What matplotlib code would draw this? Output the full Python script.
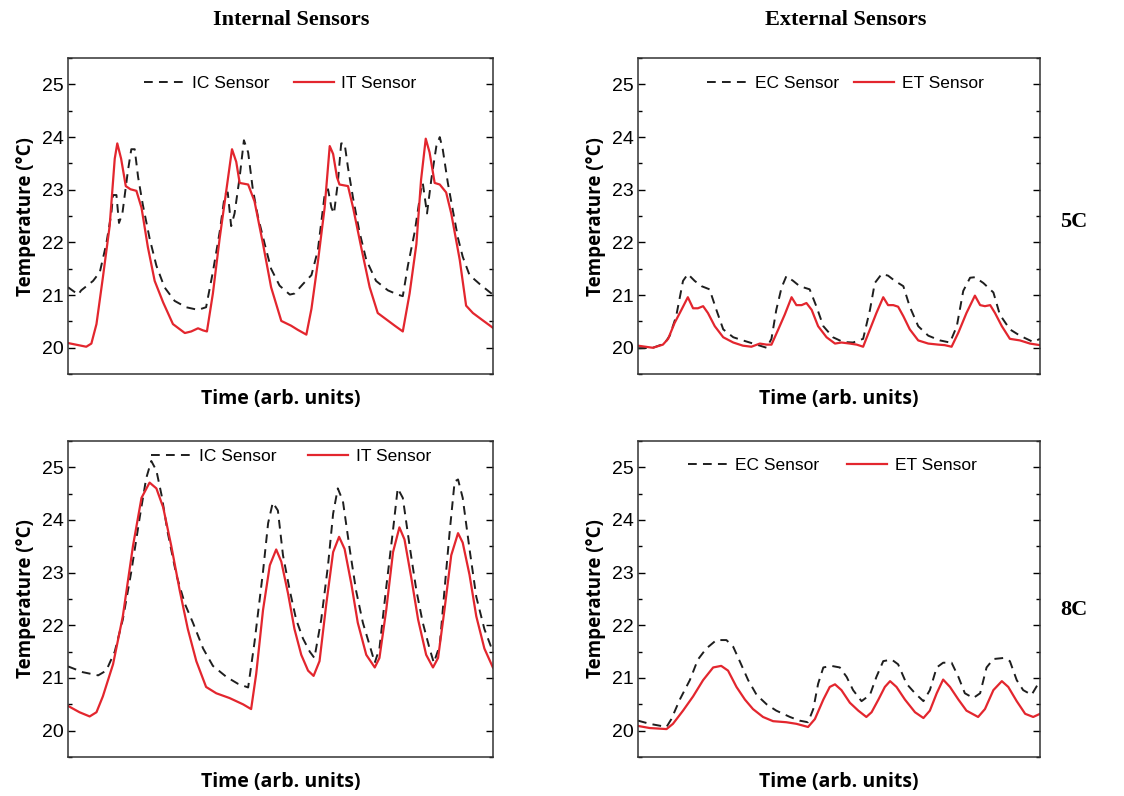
import matplotlib.pyplot as plt
import numpy as np

# temperature traces, time in arbitrary units (0-100 per run)
# --- 5C run, internal sensors ---
t_it_5 = [0, 4.3, 5.5, 6.7, 8.2, 9.8, 11.0, 11.6, 12.5, 13.6, 14.7, 16.1, 17.3, 18.8, 20.4, 22.4, 24.7,
          27.5, 29.0, 30.6, 31.8, 32.7, 34.1, 35.7, 37.3, 38.6, 39.6, 40.4, 42.4, 43.9, 45.9, 47.8, 50.2,
          52.5, 54.1, 56.1, 57.3, 58.8, 60.4, 61.6, 62.4, 63.3, 63.9, 65.9, 67.1, 69.0, 71.0, 72.9, 74.9,
          76.9, 78.8, 80.4, 82.0, 83.1, 84.2, 85.1, 86.3, 87.5, 89.0, 90.2, 92.2, 93.7, 95.3, 97.3, 100]
it_5 = [20.09, 20.02, 20.08, 20.45, 21.33, 22.31, 23.59, 23.88, 23.59, 23.07, 23.01, 22.98, 22.66, 21.91,
        21.27, 20.86, 20.45, 20.28, 20.31, 20.37, 20.33, 20.31, 21.03, 22.08, 23.01, 23.77, 23.53, 23.13,
        23.10, 22.78, 21.97, 21.15, 20.51, 20.42, 20.34, 20.25, 20.74, 21.62, 22.66, 23.83, 23.68, 23.24,
        23.10, 23.07, 22.66, 21.91, 21.15, 20.66, 20.54, 20.42, 20.31, 21.03, 21.97, 23.19, 23.97, 23.71,
        23.13, 23.10, 22.95, 22.55, 21.67, 20.80, 20.66, 20.54, 20.38]

t_ic_5 = [0, 2.4, 3.1, 5.9, 7.5, 9.0, 10.2, 10.6, 11.4, 12.0, 12.8, 14.1, 14.9, 15.7, 16.5, 17.6, 19.2,
          20.8, 22.7, 25.1, 27.8, 30.6, 32.5, 34.1, 35.7, 36.9, 37.6, 38.4, 39.2, 40.4, 41.4, 42.4, 43.5,
          44.7, 46.3, 47.8, 49.8, 52.2, 53.3, 55.3, 57.3, 58.8, 60.4, 61.2, 62.0, 62.6, 63.5, 64.3, 65.1,
          65.9, 67.1, 68.6, 70.2, 72.5, 75.3, 77.6, 78.8, 80.0, 81.6, 83.1, 83.5, 84.5, 85.5, 86.7, 87.5,
          88.2, 89.4, 90.6, 91.8, 92.9, 94.5, 96.9, 99.2, 100]
ic_5 = [21.15, 21.01, 21.09, 21.27, 21.44, 21.97, 22.55, 22.90, 22.90, 22.37, 22.55, 23.36, 23.77, 23.77,
        23.24, 22.72, 22.08, 21.56, 21.15, 20.89, 20.77, 20.72, 20.77, 21.44, 22.20, 22.90, 22.95, 22.31,
        22.55, 23.24, 23.94, 23.71, 23.01, 22.49, 21.97, 21.50, 21.18, 21.01, 21.03, 21.21, 21.38, 21.85,
        22.90, 23.01, 22.66, 22.55, 23.13, 23.88, 23.88, 23.42, 22.84, 22.20, 21.67, 21.27, 21.09, 21.01,
        20.98, 21.56, 22.20, 23.01, 23.13, 22.55, 23.19, 23.83, 24.00, 23.77, 23.13, 22.60, 22.08, 21.73,
        21.38, 21.21, 21.06, 21.01]

# --- 8C run, internal sensors ---
t_it_8 = [0, 2.7, 5.1, 6.7, 8.2, 10.6, 12.9, 15.3, 17.3, 19.2, 20.8, 22.4, 24.3, 26.3, 28.2, 30.2, 32.5,
          34.9, 38.0, 41.2, 43.1, 44.3, 45.9, 47.5, 49.0, 50.2, 51.8, 53.3, 54.9, 56.5, 57.8, 59.2, 60.8,
          62.4, 63.8, 65.1, 66.7, 68.2, 70.2, 72.2, 73.3, 74.9, 76.5, 78.0, 79.2, 80.8, 82.4, 84.3, 85.9,
          87.1, 88.6, 90.2, 91.8, 92.9, 94.5, 96.1, 98.0, 100]
it_8 = [20.47, 20.35, 20.27, 20.35, 20.65, 21.26, 22.17, 23.51, 24.42, 24.71, 24.60, 24.24, 23.51, 22.66,
        21.93, 21.32, 20.83, 20.71, 20.62, 20.50, 20.41, 21.08, 22.29, 23.14, 23.44, 23.21, 22.60, 21.93,
        21.44, 21.14, 21.04, 21.32, 22.41, 23.39, 23.68, 23.45, 22.78, 22.05, 21.44, 21.20, 21.38, 22.29,
        23.39, 23.86, 23.63, 22.90, 22.11, 21.44, 21.20, 21.38, 22.29, 23.33, 23.75, 23.57, 22.96, 22.17,
        21.56, 21.20]

t_ic_8 = [0, 3.5, 7.1, 9.0, 11.0, 12.9, 14.9, 16.9, 18.4, 19.6, 20.8, 22.0, 23.5, 25.5, 27.5, 29.4, 31.8,
          34.1, 37.3, 40.0, 42.4, 43.9, 45.9, 47.1, 48.2, 49.4, 50.6, 52.2, 53.7, 55.3, 56.9, 58.0, 59.6,
          61.2, 62.4, 63.5, 64.7, 66.3, 67.8, 69.4, 71.0, 72.2, 73.3, 74.9, 76.5, 77.6, 78.8, 80.4, 82.0,
          83.5, 85.1, 86.1, 87.5, 88.6, 89.8, 91.0, 91.8, 92.9, 94.5, 96.1, 98.0, 100]
ic_8 = [21.22, 21.11, 21.05, 21.14, 21.50, 22.11, 23.02, 24.06, 24.79, 25.12, 24.94, 24.48, 23.75, 22.96,
        22.41, 22.05, 21.56, 21.23, 21.02, 20.89, 20.82, 21.68, 23.02, 23.94, 24.33, 24.18, 23.33, 22.66,
        22.11, 21.75, 21.50, 21.38, 22.11, 23.14, 24.12, 24.60, 24.36, 23.45, 22.66, 22.05, 21.62, 21.29,
        21.56, 22.72, 23.81, 24.60, 24.42, 23.51, 22.66, 22.05, 21.56, 21.29, 21.62, 22.66, 23.75, 24.73,
        24.77, 24.42, 23.45, 22.54, 21.93, 21.50]

# --- 5C run, external sensors ---
t_et_5 = [0, 3.7, 6.2, 7.5, 9.1, 10.8, 12.4, 13.7, 14.9, 16.2, 17.4, 19.1, 21.2, 23.7, 26.1, 28.2, 30.3,
          32.0, 33.2, 34.9, 36.5, 38.2, 39.4, 40.7, 41.9, 43.2, 44.8, 46.9, 49.0, 50.6, 52.7, 54.4, 56.0,
          57.7, 59.3, 61.0, 62.2, 63.5, 64.7, 66.0, 67.6, 69.7, 72.2, 74.7, 76.3, 78.0, 79.7, 81.7, 83.8,
          85.1, 86.3, 87.6, 88.8, 90.5, 92.5, 95.0, 97.5, 100]
et_5 = [20.04, 20.00, 20.06, 20.17, 20.47, 20.72, 20.96, 20.75, 20.75, 20.79, 20.66, 20.41, 20.20, 20.10,
        20.04, 20.02, 20.08, 20.06, 20.06, 20.35, 20.63, 20.96, 20.81, 20.81, 20.85, 20.72, 20.41, 20.20,
        20.08, 20.10, 20.08, 20.06, 20.02, 20.35, 20.66, 20.96, 20.81, 20.81, 20.78, 20.60, 20.35, 20.14,
        20.08, 20.06, 20.05, 20.02, 20.29, 20.66, 20.99, 20.81, 20.79, 20.81, 20.66, 20.41, 20.17, 20.14,
        20.08, 20.05]

t_ec_5 = [0, 3.7, 6.6, 7.9, 9.5, 11.2, 12.4, 14.1, 15.8, 17.8, 19.5, 21.2, 23.7, 26.1, 29.5, 32.0, 33.2,
          34.4, 35.7, 36.9, 38.6, 40.2, 42.7, 44.4, 46.1, 48.5, 51.0, 53.5, 56.0, 57.7, 58.9, 60.6, 62.2,
          63.9, 66.0, 67.6, 69.7, 72.2, 75.1, 77.6, 79.3, 80.9, 82.6, 83.8, 85.9, 88.4, 90.0, 92.5, 95.0,
          98.3, 100]
ec_5 = [19.99, 20.00, 20.08, 20.23, 20.60, 21.27, 21.40, 21.27, 21.17, 21.11, 20.72, 20.35, 20.20, 20.14,
        20.06, 20.00, 20.17, 20.72, 21.14, 21.36, 21.27, 21.17, 21.11, 20.78, 20.41, 20.20, 20.11, 20.10,
        20.17, 20.72, 21.23, 21.40, 21.37, 21.27, 21.17, 20.78, 20.41, 20.23, 20.14, 20.10, 20.41, 21.08,
        21.33, 21.34, 21.23, 21.05, 20.63, 20.35, 20.23, 20.11, 20.17]

# --- 8C run, external sensors ---
t_et_8 = [0, 2.9, 7.1, 8.7, 11.2, 13.7, 16.2, 18.7, 20.7, 22.4, 24.5, 26.6, 28.6, 31.1, 33.6, 36.9, 39.4,
          42.3, 44.0, 46.1, 47.7, 49.0, 50.6, 52.7, 54.8, 56.8, 58.1, 59.8, 61.4, 62.7, 64.3, 66.4, 68.9,
          71.0, 72.6, 74.3, 75.9, 77.6, 79.7, 81.7, 84.6, 86.3, 88.4, 90.5, 92.1, 94.2, 96.3, 98.3, 100]
et_8 = [20.09, 20.05, 20.03, 20.13, 20.38, 20.65, 20.96, 21.20, 21.23, 21.14, 20.83, 20.59, 20.41, 20.26,
        20.18, 20.16, 20.13, 20.07, 20.22, 20.59, 20.83, 20.88, 20.77, 20.53, 20.38, 20.26, 20.35, 20.59,
        20.83, 20.94, 20.83, 20.59, 20.35, 20.24, 20.38, 20.71, 20.97, 20.83, 20.59, 20.38, 20.26, 20.41,
        20.77, 20.94, 20.83, 20.56, 20.32, 20.26, 20.32]

t_ec_8 = [0, 2.9, 7.1, 8.3, 10.4, 12.9, 14.9, 17.0, 19.5, 22.0, 23.7, 25.3, 27.4, 29.5, 32.0, 34.4, 37.8,
          40.2, 42.3, 43.6, 44.8, 46.1, 48.1, 50.2, 51.9, 53.5, 55.6, 57.7, 59.3, 61.0, 63.1, 64.7, 66.8,
          68.9, 71.0, 72.6, 74.3, 75.9, 78.0, 79.7, 81.3, 83.4, 85.1, 86.7, 88.4, 90.9, 92.5, 94.2, 95.8,
          97.9, 100]
ec_8 = [20.19, 20.13, 20.07, 20.22, 20.59, 20.96, 21.35, 21.56, 21.72, 21.72, 21.59, 21.32, 20.96, 20.68,
        20.50, 20.38, 20.26, 20.19, 20.16, 20.41, 20.89, 21.20, 21.23, 21.20, 21.02, 20.77, 20.56, 20.68,
        21.02, 21.32, 21.35, 21.26, 20.89, 20.71, 20.56, 20.77, 21.20, 21.29, 21.29, 21.02, 20.71, 20.62,
        20.71, 21.20, 21.36, 21.38, 21.32, 20.96, 20.77, 20.68, 20.95]

RED = '#e3262e'
DASH = '#1e1e1e'
TICK_FONT = 'Liberation Sans'
LABEL_FONT = 'Open Sans'

fig = plt.figure(figsize=(11.24, 7.96), dpi=100)

# [left, bottom, width, height] for each panel
ax_tl = fig.add_axes([0.0605, 0.530, 0.378, 0.397])
ax_tr = fig.add_axes([0.5676, 0.530, 0.3577, 0.397])
ax_bl = fig.add_axes([0.0605, 0.049, 0.378, 0.397])
ax_br = fig.add_axes([0.5676, 0.049, 0.3577, 0.397])

panels = [
    (ax_tl, t_ic_5, ic_5, t_it_5, it_5, 'IC Sensor', 'IT Sensor', (19.74, 25.26), (0.50, 0.92), 1.4),
    (ax_bl, t_ic_8, ic_8, t_it_8, it_8, 'IC Sensor', 'IT Sensor', (19.74, 25.5), (0.525, 0.95), 1.8),
    (ax_tr, t_ec_5, ec_5, t_et_5, et_5, 'EC Sensor', 'ET Sensor', (19.74, 25.48), (0.516, 0.92), 0.9),
    (ax_br, t_ec_8, ec_8, t_et_8, et_8, 'EC Sensor', 'ET Sensor', (19.74, 25.5), (0.483, 0.924), 1.6),
]

for ax, tc, c, tt, tv, lab_c, lab_t, ylim, legpos, colsp in panels:
    ax.plot(tc, c, color=DASH, lw=1.4, dashes=(4.5, 3.2), label=lab_c)
    ax.plot(tt, tv, color=RED, lw=1.6, solid_joinstyle='round', label=lab_t)
    ax.set_xlim(0, 100)
    ax.set_ylim(*ylim)
    ax.set_xticks([])
    ax.set_yticks(np.arange(20, 26, 1))
    ax.set_yticks(np.arange(19.5, 25.6, 0.5), minor=True)
    ax.tick_params(axis='y', which='both', direction='in', left=True, right=True, labelsize=14, pad=3)
    ax.tick_params(axis='y', which='major', length=5, width=1)
    ax.tick_params(axis='y', which='minor', length=3, width=1)
    for lbl in ax.get_yticklabels():
        lbl.set_fontfamily(TICK_FONT)
    for sp in ax.spines.values():
        sp.set_color('#333333')
        sp.set_linewidth(1.1)
    ax.set_xlabel('Time (arb. units)', fontsize=14, fontweight='bold', family=LABEL_FONT, labelpad=11)
    ax.set_ylabel('Temperature (°C)', fontsize=13.5, fontweight='bold', family=LABEL_FONT, labelpad=4)
    ax.legend(loc='center', bbox_to_anchor=legpos, ncol=2, frameon=False,
              prop={'family': TICK_FONT, 'size': 12.5}, handlelength=2.3, handletextpad=0.45,
              columnspacing=colsp)

fig.text(0.2595, 0.975, 'Internal Sensors', ha='center', va='center', family='Liberation Serif',
         fontweight='bold', fontsize=16)
fig.text(0.7527, 0.975, 'External Sensors', ha='center', va='center', family='Liberation Serif',
         fontweight='bold', fontsize=16)
fig.text(0.9555, 0.721, '5C', ha='center', va='center', family='Liberation Serif',
         fontweight='bold', fontsize=16)
fig.text(0.9555, 0.234, '8C', ha='center', va='center', family='Liberation Serif',
         fontweight='bold', fontsize=16)

fig.savefig('out.png', dpi=100)
